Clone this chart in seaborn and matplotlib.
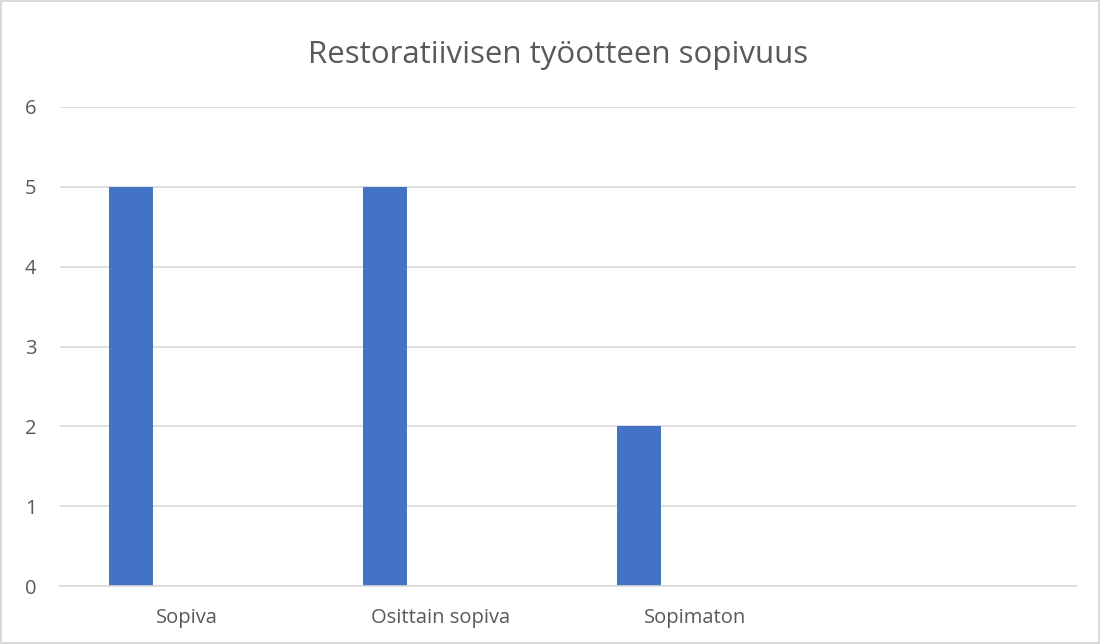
import pandas as pd
import matplotlib
matplotlib.use("Agg")
import matplotlib.pyplot as plt
import seaborn as sns

# data
categories = ["Sopiva", "Osittain sopiva", "Sopimaton", " "]
series_names = ["Sarja1", "Sarja2", "Sarja3"]
sarja1 = [5, 5, 2, 0]
sarja2 = [0, 0, 0, 0]
sarja3 = [0, 0, 0, 0]
yticks = [0, 1, 2, 3, 4, 5, 6]
title = "Restoratiivisen työotteen sopivuus"


def main():
    rows = []
    for name, vals in zip(series_names, [sarja1, sarja2, sarja3]):
        for cat, v in zip(categories, vals):
            rows.append({"cat": cat, "value": v, "series": name})
    df = pd.DataFrame(rows)

    sns.set_theme(style="white")
    plt.rcParams["font.family"] = ["Open Sans", "DejaVu Sans"]

    fig = plt.figure(figsize=(11, 6.44), dpi=100)
    fig.patch.set_edgecolor("#d9d9d9")
    fig.patch.set_linewidth(1.5)
    ax = fig.add_axes([60 / 1100, 1 - 586 / 644, 1016 / 1100, (586 - 107) / 644])

    blue = "#4472c4"
    sns.barplot(data=df, x="cat", y="value", hue="series", order=categories,
                hue_order=series_names, palette=[blue, blue, blue], saturation=1,
                width=0.6645, gap=0.2126, linewidth=0, legend=False, ax=ax)

    ax.set_xlim(-0.5, len(categories) - 0.5)
    ax.set_ylim(0, 6)
    ax.set_yticks(yticks)
    ax.yaxis.grid(True, color="#d9d9d9", linewidth=1.2)
    ax.set_axisbelow(True)
    for s in ["top", "right", "left"]:
        ax.spines[s].set_visible(False)
    ax.spines["bottom"].set_color("#d9d9d9")
    ax.spines["bottom"].set_linewidth(1.2)
    ax.tick_params(axis="y", length=0, pad=17, labelsize=14.5, labelcolor="#595959")
    ax.tick_params(axis="x", length=0, pad=16, labelsize=14.5, labelcolor="#595959")
    ax.set_xlabel("")
    ax.set_ylabel("")

    fig.text(0.507, 1 - 55 / 644, title, ha="center", va="center",
             fontsize=22.5, color="#595959")

    fig.savefig("out.png", dpi=100, edgecolor=fig.get_edgecolor())


if __name__ == "__main__":
    main()
